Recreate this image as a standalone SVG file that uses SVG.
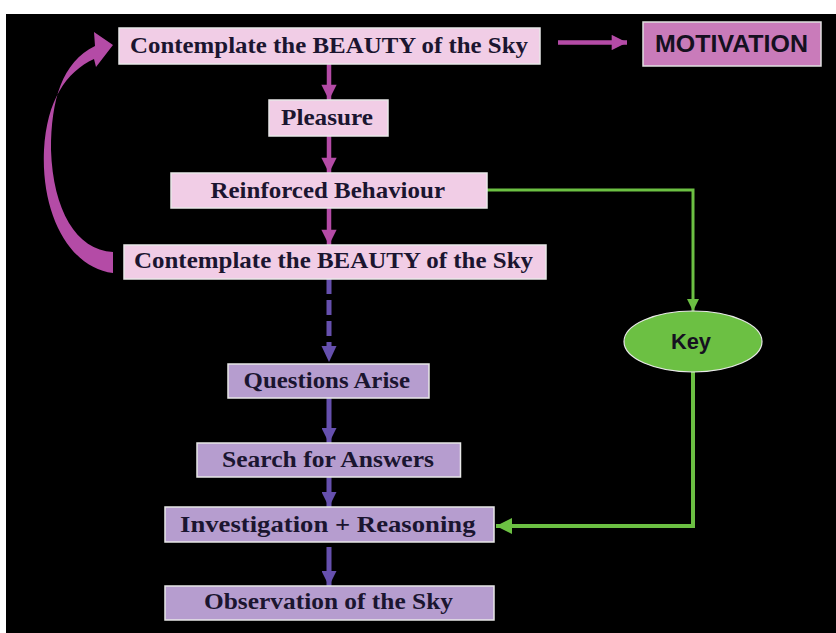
<svg xmlns="http://www.w3.org/2000/svg" width="836" height="633" viewBox="0 0 836 633">
<defs>
<style>
.pk{fill:#F1CDE6;stroke:#E8E8E8;stroke-width:1.5}
.pu{fill:#B69DCF;stroke:#E8E8E8;stroke-width:1.5}
.t{font-family:"Liberation Serif","DejaVu Serif",serif;font-weight:bold;font-size:23px;fill:#1B1530;text-anchor:start}
.s{font-family:"Liberation Sans","DejaVu Sans",sans-serif;font-weight:bold;fill:#151020}
.pl{stroke:#B44BA6;stroke-width:4.5;fill:none}
.vl{stroke:#6650AE;stroke-width:5;fill:none}
.gl{stroke:#6CC043;fill:none}
</style>
<marker id="ap" viewBox="0 0 10 10" refX="10" refY="5" markerWidth="3.6" markerHeight="3.4" markerUnits="strokeWidth" orient="auto"><path d="M0,0L10,5L0,10Z" fill="#B44BA6"/></marker>
<marker id="av" viewBox="0 0 10 10" refX="10" refY="5" markerWidth="3" markerHeight="3" markerUnits="strokeWidth" orient="auto"><path d="M0,0L10,5L0,10Z" fill="#6650AE"/></marker>
<marker id="ag" viewBox="0 0 10 10" refX="10" refY="5" markerWidth="4" markerHeight="4.6" markerUnits="strokeWidth" orient="auto"><path d="M0,0L10,5L0,10Z" fill="#6CC043"/></marker>
</defs>
<rect x="0" y="0" width="836" height="633" fill="#FFFFFF"/>
<rect x="6" y="14" width="830" height="619" fill="#000000"/>

<g id="connectors">
<path class="pl" d="M558,42.5H627" stroke-width="5" marker-end="url(#ap)"/>
<path class="pl" d="M329,64V100" marker-end="url(#ap)"/>
<path class="pl" d="M329,136V173" marker-end="url(#ap)"/>
<path class="pl" d="M329,208V245" marker-end="url(#ap)"/>
<path class="vl" d="M329,279V346" stroke-dasharray="15,6"/>
<path d="M321.5,346H336.5L329,362Z" fill="#6650AE"/>
<path class="vl" d="M329,398V443" marker-end="url(#av)"/>
<path class="vl" d="M329,477V507" marker-end="url(#av)"/>
<path class="vl" d="M329,547V586" marker-end="url(#av)"/>
<path class="gl" stroke-width="3" d="M487,190H693V311" marker-end="url(#ag)"/>
<path class="gl" stroke-width="4" d="M693,372V526H496" marker-end="url(#ag)"/>
<path d="M113,273C70,268 41,215 44,150C47,100 66,72 94,59L96,67L113,45L94,32L95,46C62,62 51,100 51,150C53,210 76,250 113,252Z" fill="#B44BA6"/>
</g>

<g id="n1"><rect class="pk" x="119" y="28" width="421" height="36"/><text class="t" x="130" y="53" textLength="398" lengthAdjust="spacingAndGlyphs">Contemplate the  BEAUTY of the Sky</text></g>
<g id="motivation"><rect x="643" y="22" width="178" height="44" fill="#C97BBA" stroke="#E0E0E0" stroke-width="1.5"/><text class="s" x="655" y="52" font-size="23" textLength="153" lengthAdjust="spacingAndGlyphs">MOTIVATION</text></g>
<g id="n2"><rect class="pk" x="269" y="100" width="119" height="36"/><text class="t" x="281" y="125" textLength="92" lengthAdjust="spacingAndGlyphs">Pleasure</text></g>
<g id="n3"><rect class="pk" x="171" y="173" width="316" height="35"/><text class="t" x="210.5" y="198" textLength="234.5" lengthAdjust="spacingAndGlyphs">Reinforced Behaviour</text></g>
<g id="n4"><rect class="pk" x="124" y="245" width="422" height="34"/><text class="t" x="134" y="268" textLength="399" lengthAdjust="spacingAndGlyphs">Contemplate the  BEAUTY of the Sky</text></g>
<g id="key"><ellipse cx="693" cy="341.5" rx="69" ry="30.5" fill="#6CC043" stroke="#E8E8E8" stroke-width="1.2"/><text class="s" x="671" y="349" font-size="22" textLength="40" lengthAdjust="spacingAndGlyphs">Key</text></g>
<g id="n5"><rect class="pu" x="228" y="364" width="201" height="34"/><text class="t" x="243.6" y="388" textLength="166.4" lengthAdjust="spacingAndGlyphs">Questions Arise</text></g>
<g id="n6"><rect class="pu" x="197" y="443" width="263.5" height="34"/><text class="t" x="222" y="467" textLength="212" lengthAdjust="spacingAndGlyphs">Search  for Answers</text></g>
<g id="n7"><rect class="pu" x="165" y="507" width="329" height="35"/><text class="t" x="180" y="532" textLength="295.5" lengthAdjust="spacingAndGlyphs">Investigation  + Reasoning</text></g>
<g id="n8"><rect class="pu" x="165" y="586" width="329" height="34"/><text class="t" x="204" y="609" textLength="249" lengthAdjust="spacingAndGlyphs">Observation of the  Sky</text></g>
</svg>
